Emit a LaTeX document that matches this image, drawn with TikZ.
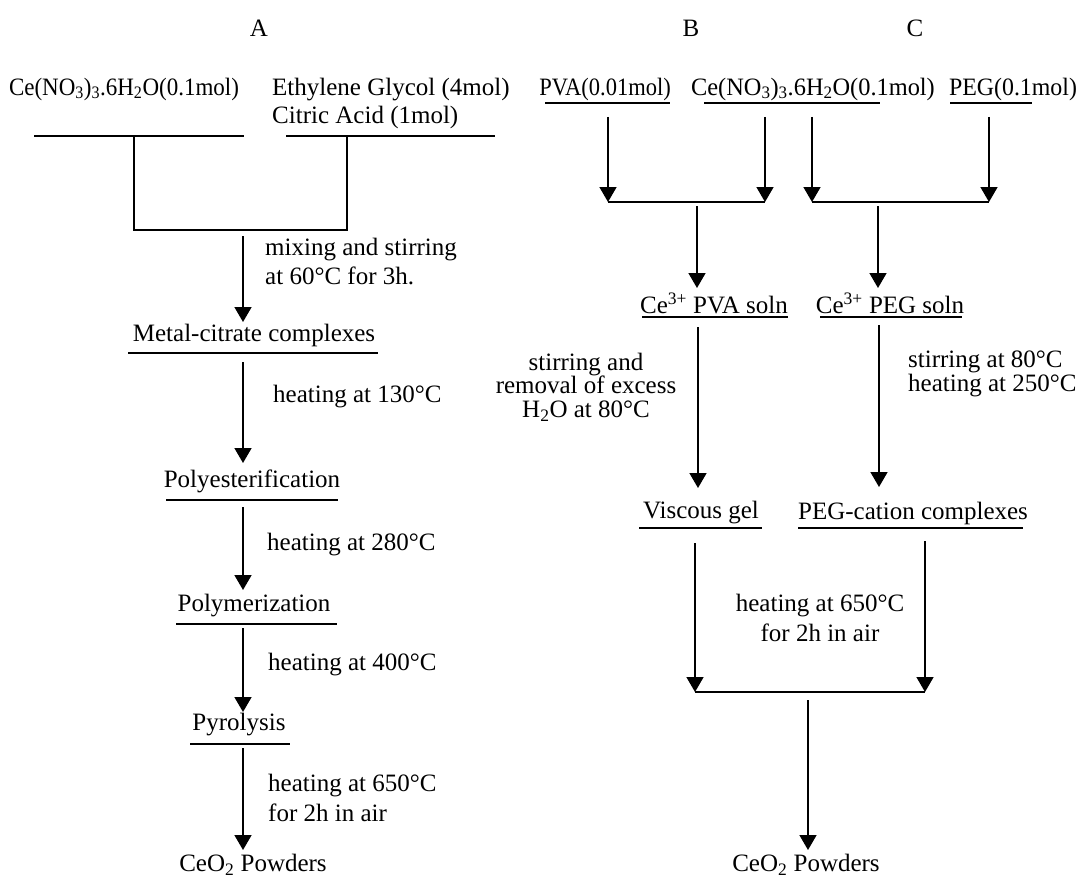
\documentclass[tikz,border=0pt]{standalone}
\usepackage{fontspec}
\setmainfont{Liberation Serif}
\usetikzlibrary{arrows.meta}
\begin{document}
\begin{tikzpicture}[x=1pt,y=-1pt,
  txt/.style={inner sep=0pt, font=\fontsize{25}{28}\selectfont},
  arr/.style={line width=1.6pt, -{Triangle[width=17pt,length=15pt]}},
  ln/.style={line width=1.5pt},
  ul/.style={line width=1.3pt}]
\useasboundingbox (0,0) rectangle (1079,880);

% titles
\node[txt] (tA) at (259,28) {A};
\node[txt] (tB) at (691,28) {B};
\node[txt] (tC) at (915,28) {C};

% ---------------- column A ----------------
\node[txt] (ceA) at (124,89) {\scalebox{0.92}[1]{Ce(NO\textsubscript{3})\textsubscript{3}.6H\textsubscript{2}O(0.1mol)}};
\node[txt, anchor=west, align=left] (egca) at (272,103) {Ethylene Glycol (4mol)\\Citric Acid (1mol)};
\draw[ul] (34,136) -- (244,136);
\draw[ul] (286,136) -- (495,136);
\coordinate (jL) at (134,136);
\coordinate (jR) at (347,136);
\coordinate (bL) at (134,230);
\coordinate (bR) at (347,230);
\draw[ln] (jL) -- (bL) -- (bR) -- (jR);

\coordinate (a1s) at (243,236);
\coordinate (a1e) at (243,322);
\draw[arr] (a1s) -- (a1e);
\node[txt, anchor=west, align=left, font=\fontsize{25}{29}\selectfont] (lmix) at (265,262) {mixing and stirring\\at 60°C for 3h.};

\node[txt] (mc) at (254,335) {Metal-citrate complexes};
\draw[ul] (128,353) -- (378,353);
\coordinate (a2s) at (243,362);
\coordinate (a2e) at (243,463);
\draw[arr] (a2s) -- (a2e);
\node[txt, anchor=west] (l130) at (273,397) {heating at 130°C};

\node[txt] (pe) at (252,481) {Polyesterification};
\draw[ul] (166,500) -- (338,500);
\coordinate (a3s) at (243,507);
\coordinate (a3e) at (243,590);
\draw[arr] (a3s) -- (a3e);
\node[txt, anchor=west] (l280) at (267,545) {heating at 280°C};

\node[txt] (pm) at (254,606) {Polymerization};
\draw[ul] (176,624) -- (337,624);
\coordinate (a4s) at (243,628);
\coordinate (a4e) at (243,712);
\draw[arr] (a4s) -- (a4e);
\node[txt, anchor=west] (l400) at (268,665) {heating at 400°C};

\node[txt] (py) at (239,725) {Pyrolysis};
\draw[ul] (190,744) -- (290,744);
\coordinate (a5s) at (243,748);
\coordinate (a5e) at (243,850);
\draw[arr] (a5s) -- (a5e);
\node[txt, anchor=west, align=left, font=\fontsize{25}{30}\selectfont] (l650a) at (268,798) {heating at 650°C\\for 2h in air};

\node[txt] (ceoA) at (253,865) {CeO\textsubscript{2} Powders};

% ---------------- columns B and C ----------------
\node[txt] (pva) at (605,89) {\scalebox{0.9}[1]{PVA(0.01mol)}};
\draw[ul] (545,103) -- (670,103);
\node[txt] (ceB) at (813,89) {\scalebox{0.975}[1]{Ce(NO\textsubscript{3})\textsubscript{3}.6H\textsubscript{2}O(0.1mol)}};
\draw[ul] (704,103) -- (880,103);
\node[txt] (peg) at (1013,89) {\scalebox{0.955}[1]{PEG(0.1mol)}};
\draw[ul] (950,103) -- (1032,103);

\coordinate (p1s) at (608,117);
\coordinate (p1e) at (608,202);
\coordinate (p2s) at (765,117);
\coordinate (p2e) at (765,202);
\coordinate (p3s) at (812,117);
\coordinate (p3e) at (812,202);
\coordinate (p4s) at (989,117);
\coordinate (p4e) at (989,202);
\draw[arr] (p1s) -- (p1e);
\draw[arr] (p2s) -- (p2e);
\draw[arr] (p3s) -- (p3e);
\draw[arr] (p4s) -- (p4e);
\draw[ln] (p1e) -- (p2e);
\draw[ln] (p3e) -- (p4e);

\coordinate (q1s) at (697,206);
\coordinate (q1e) at (697,288);
\coordinate (q2s) at (878,206);
\coordinate (q2e) at (878,288);
\draw[arr] (q1s) -- (q1e);
\draw[arr] (q2s) -- (q2e);

\node[txt] (cpva) at (714,303) {Ce\textsuperscript{3+} PVA soln};
\draw[ul] (642,317) -- (788,317);
\node[txt] (cpeg) at (890,303) {Ce\textsuperscript{3+} PEG soln};
\draw[ul] (820,317) -- (962,317);

\coordinate (r1s) at (698,327);
\coordinate (r1e) at (698,488);
\coordinate (r2s) at (879,325);
\coordinate (r2e) at (879,487);
\draw[arr] (r1s) -- (r1e);
\draw[arr] (r2s) -- (r2e);
\node[txt, align=center, font=\fontsize{25}{23.5}\selectfont] (lrem) at (586,387) {stirring and\\removal of excess\\H\textsubscript{2}O at 80°C};
\node[txt, anchor=west, align=left, font=\fontsize{25}{23.5}\selectfont] (l250) at (908,374) {stirring at 80°C\\heating at 250°C};

\node[txt] (vg) at (701,513) {Viscous gel};
\draw[ul] (639,528) -- (762,528);
\node[txt] (pcc) at (913,513) {PEG-cation complexes};
\draw[ul] (798,528) -- (1023,528);

\coordinate (s1s) at (695,543);
\coordinate (s1e) at (695,692);
\coordinate (s2s) at (925,541);
\coordinate (s2e) at (925,692);
\draw[arr] (s1s) -- (s1e);
\draw[arr] (s2s) -- (s2e);
\draw[ln] (s1e) -- (s2e);
\node[txt, align=center, font=\fontsize{25}{30}\selectfont] (l650b) at (820,618) {heating at 650°C\\for 2h in air};

\coordinate (t1s) at (808,700);
\coordinate (t1e) at (808,850);
\draw[arr] (t1s) -- (t1e);
\node[txt] (ceoB) at (806,865) {CeO\textsubscript{2} Powders};
\end{tikzpicture}
\end{document}
